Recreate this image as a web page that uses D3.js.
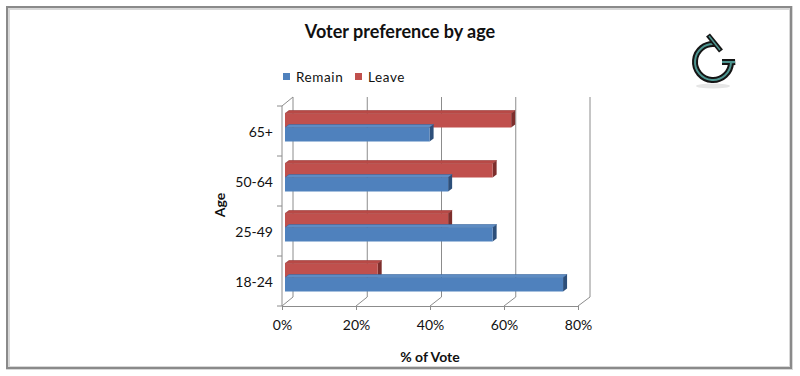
<!DOCTYPE html>
<meta charset="utf-8">

<style>
body{
	background-color: #fff;
	margin: 0px;
}

text{
	font-family: Lato, "Open Sans", sans-serif;
	fill: #111;
}

.grid line, .grid path{
	stroke: #8c8c8c;
	stroke-width: 1;
	fill: none;
}

</style>

<body></body>

<script src="https://cdn.jsdelivr.net/npm/d3@7"></script>

<script>

// values
var ages   = ['18-24', '25-49', '50-64', '65+']
var remain = [75, 56, 44, 39]
var leave  = [25, 44, 56, 61]
var series = ['Remain', 'Leave']
var xTicks = [0, 20, 40, 60, 80]

var width = 800, height = 376

var color = {
	Remain: {front: '#4f81bd', top: '#5d8cc4', side: '#2d4f7a', edge: '#3a659a'},
	Leave:  {front: '#c0504d', top: '#b84946', side: '#7d2e2c', edge: '#953835'}
}

var svg = d3.select('body')
	.append('svg')
		.attr('width', width)
		.attr('height', height)

// outer frame
svg.append('rect')
		.attr('x', 8).attr('y', 8)
		.attr('width', 783).attr('height', 360)
		.attr('fill', 'none')
		.attr('stroke', '#d8d8d8')
		.attr('stroke-width', 4)
svg.append('rect')
		.attr('x', 7).attr('y', 7)
		.attr('width', 784).attr('height', 361)
		.attr('fill', 'none')
		.attr('stroke', '#8a8a8a')
		.attr('stroke-width', 2)

// scales: front edge of floor, back wall, and the plane the bars sit on
var xFront = d3.scaleLinear().domain([0, 80]).range([282, 578])
var xBack  = d3.scaleLinear().domain([0, 80]).range([293, 590])
var xBar   = d3.scaleLinear().domain([0, 80]).range([285, 581.6])

var y = d3.scaleBand().domain(ages).range([306, 106])
var sub = d3.scaleBand().domain(['Leave', 'Remain']).range([7.5, 35.5])

var backTop = 97, backBottom = 297, floorY = 306
var bdx = 4, bdy = -3   // bar depth

var grid = svg.append('g').attr('class', 'grid')

// back wall gridlines
grid.selectAll('line.back').data(xTicks).enter().append('line')
		.attr('class', 'back')
		.attr('x1', xBack).attr('x2', xBack)
		.attr('y1', backTop).attr('y2', backBottom)

// floor diagonals
grid.selectAll('line.floor').data(xTicks).enter().append('line')
		.attr('class', 'floor')
		.attr('x1', xFront).attr('x2', xBack)
		.attr('y1', floorY).attr('y2', backBottom)

// left wall front edge + top diagonal
grid.append('line')
		.attr('x1', xFront(0)).attr('x2', xFront(0))
		.attr('y1', y.range()[1]).attr('y2', floorY)
grid.append('line')
		.attr('x1', xFront(0)).attr('x2', xBack(0))
		.attr('y1', y.range()[1]).attr('y2', backTop)

// category ticks at band edges
var edges = ages.map(function(a){ return y(a) }).concat([y.range()[0]])
grid.selectAll('line.ytick').data(edges).enter().append('line')
		.attr('class', 'ytick')
		.attr('x1', xFront(0) - 5).attr('x2', xFront(0))
		.attr('y1', function(d){ return d }).attr('y2', function(d){ return d })

// x axis (front edge of floor)
var xAxis = svg.append('g')
		.attr('class', 'grid')
		.attr('transform', 'translate(0,' + floorY + ')')
		.call(d3.axisBottom(xFront)
			.tickValues(xTicks)
			.tickSize(4)
			.tickSizeOuter(0)
			.tickPadding(10)
			.tickFormat(function(d){ return d + '%' }))
xAxis.selectAll('text')
		.style('font-size', '14px')
		.style('font-family', 'Lato, sans-serif')
		.attr('fill', '#111')

// y axis labels
var yAxis = svg.append('g')
		.attr('transform', 'translate(' + xFront(0) + ',2)')
		.call(d3.axisLeft(y).tickSize(0).tickPadding(9))
yAxis.select('.domain').remove()
yAxis.selectAll('text')
		.style('font-size', '14px')
		.style('font-family', 'Lato, sans-serif')
		.attr('fill', '#111')

// bars
var rows = []
ages.forEach(function(a, i){
	rows.push({age: a, key: 'Leave', value: leave[i]})
	rows.push({age: a, key: 'Remain', value: remain[i]})
})

var bars = svg.append('g').selectAll('g')
	.data(rows).enter().append('g')

bars.each(function(d){
	var g = d3.select(this)
	var x0 = xBar(0), x1 = xBar(d.value)
	var y0 = y(d.age) + sub(d.key), y1 = y0 + sub.bandwidth()
	var c = color[d.key]

	g.append('path')
			.attr('d', 'M' + x0 + ',' + y0 + 'L' + (x0 + bdx) + ',' + (y0 + bdy) +
				'L' + (x1 + bdx) + ',' + (y0 + bdy) + 'L' + x1 + ',' + y0 + 'Z')
			.attr('fill', c.top)
			.attr('stroke', c.edge).attr('stroke-width', 0.6)
	g.append('path')
			.attr('d', 'M' + x1 + ',' + y0 + 'L' + (x1 + bdx) + ',' + (y0 + bdy) +
				'L' + (x1 + bdx) + ',' + (y1 + bdy) + 'L' + x1 + ',' + y1 + 'Z')
			.attr('fill', c.side)
	g.append('rect')
			.attr('x', x0).attr('y', y0)
			.attr('width', x1 - x0).attr('height', y1 - y0)
			.attr('fill', c.front)
})

// title
svg.append('text')
		.attr('x', 400).attr('y', 38)
		.attr('text-anchor', 'middle')
		.style('font-size', '18px')
		.style('font-weight', 'bold')
		.text('Voter preference by age')

// legend
var legend = svg.append('g').selectAll('g')
	.data(series).enter().append('g')
		.attr('transform', function(d, i){ return 'translate(' + [283 + i * 72, 73] + ')' })
legend.append('rect')
		.attr('width', 7).attr('height', 7)
		.attr('fill', function(d){ return color[d].front })
legend.append('text')
		.attr('x', 13).attr('y', 9)
		.style('font-size', '13.5px')
		.style('letter-spacing', '0.6px')
		.text(function(d){ return d })

// axis titles
svg.append('text')
		.attr('x', 430).attr('y', 362)
		.attr('text-anchor', 'middle')
		.style('font-size', '14px')
		.style('font-weight', 'bold')
		.text('% of Vote')

svg.append('text')
		.attr('transform', 'translate(225,205) rotate(-90)')
		.attr('text-anchor', 'middle')
		.style('font-size', '14px')
		.style('font-weight', 'bold')
		.text('Age')

// logo
var logo = svg.append('g').attr('transform', 'translate(713,62)')
logo.append('ellipse')
		.attr('cx', 0).attr('cy', 24).attr('rx', 17).attr('ry', 2.5)
		.attr('fill', '#e6e6e6')
function arcPath(r, a0, a1){
	var p = d3.path()
	p.arc(0, 0, r, a0, a1, true)
	return p.toString()
}
var gPath = arcPath(18, -Math.PI * 0.46, 0.03) + 'L22,0L9,0'
logo.append('path')
		.attr('d', gPath)
		.attr('fill', 'none')
		.attr('stroke', '#151515')
		.attr('stroke-width', 6)
logo.append('path')
		.attr('d', gPath)
		.attr('fill', 'none')
		.attr('stroke', '#4e9590')
		.attr('stroke-width', 2)
logo.append('line')
		.attr('x1', -5).attr('y1', -27).attr('x2', 8).attr('y2', -11)
		.attr('stroke', '#151515').attr('stroke-width', 5)
logo.append('line')
		.attr('x1', -4).attr('y1', -26).attr('x2', 7).attr('y2', -12)
		.attr('stroke', '#4e9590').attr('stroke-width', 1.5)

</script>
